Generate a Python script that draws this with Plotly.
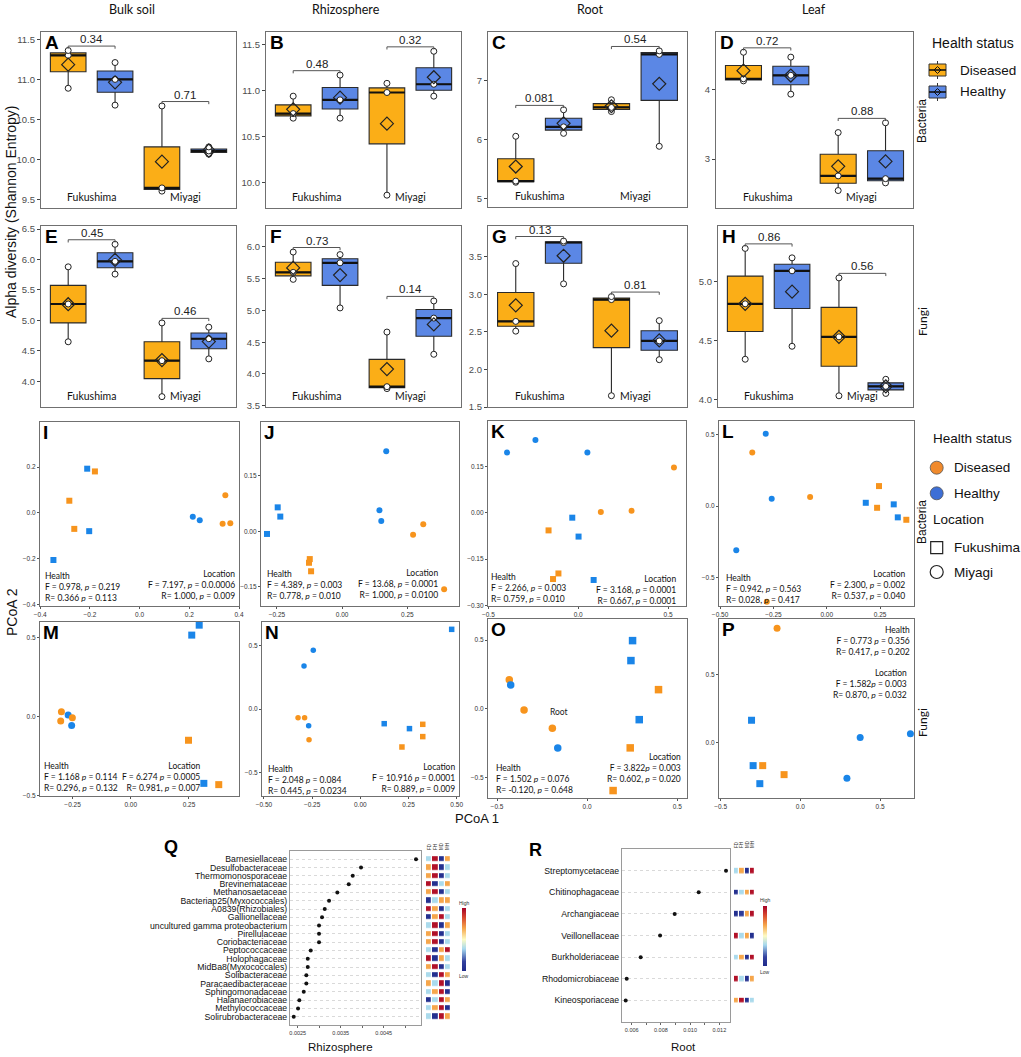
import numpy as np
import plotly.graph_objects as go

W, H = 1021, 1057

ORANGE_BOX = "#FBAE17"
BLUE_BOX = "#5B87E5"
ORANGE_PT = "#F7941D"
BLUE_PT = "#1A85E8"
FRAME = "#707070"
ARIAL = "Liberation Sans, Arial, sans-serif"
CALI = "Lato, Open Sans, sans-serif"

# ---------------- data: alpha diversity (3 samples per group) ----------------
# order of groups: Fukushima-Diseased, Fukushima-Healthy, Miyagi-Diseased, Miyagi-Healthy
sites = ["Fukushima", "Miyagi"]
health_status = ["Diseased", "Healthy"]
compartments = ["Bulk soil", "Rhizosphere", "Root", "Leaf"]

alpha_A = [[10.89, 11.30, 11.36], [10.68, 11.00, 11.21], [9.61, 9.65, 10.67], [10.07, 10.11, 10.16]]
alpha_B = [[10.70, 10.75, 10.94], [10.70, 10.90, 11.17], [9.86, 10.98, 11.08], [10.94, 11.07, 11.43]]
alpha_C = [[5.28, 5.30, 6.06], [6.11, 6.22, 6.51], [6.48, 6.55, 6.68], [5.89, 7.45, 7.51]]
alpha_D = [[4.12, 4.15, 4.53], [3.93, 4.20, 4.46], [2.55, 2.76, 3.38], [2.66, 2.72, 3.52]]
alpha_E = [[4.65, 5.27, 5.88], [5.76, 5.97, 6.25], [3.75, 4.34, 4.96], [4.37, 4.70, 4.89]]
alpha_F = [[5.49, 5.60, 5.92], [5.04, 5.75, 5.88], [3.77, 3.80, 4.66], [4.31, 4.88, 5.15]]
alpha_G = [[2.51, 2.64, 3.41], [3.14, 3.69, 3.71], [1.65, 2.93, 2.97], [2.13, 2.38, 2.65]]
alpha_H = [[4.34, 4.81, 5.28], [4.45, 5.09, 5.20], [4.03, 4.53, 5.03], [4.05, 4.11, 4.17]]

p_A = ["0.34", "0.71"]
p_B = ["0.48", "0.32"]
p_C = ["0.081", "0.54"]
p_D = ["0.72", "0.88"]
p_E = ["0.45", "0.46"]
p_F = ["0.73", "0.14"]
p_G = ["0.13", "0.81"]
p_H = ["0.86", "0.56"]

# ---------------- data: PCoA coordinates ----------------
# group codes: D/H = Diseased/Healthy, F/M = Fukushima/Miyagi
I_x = [-0.211, -0.180, -0.283, -0.263, -0.203, -0.347, 0.214, 0.242, 0.345, 0.334, 0.365]
I_y = [0.193, 0.181, 0.053, -0.070, -0.080, -0.206, -0.017, -0.032, 0.077, -0.048, -0.045]
I_g = ["HF", "DF", "DF", "DF", "HF", "HF", "HM", "HM", "DM", "DM", "DM"]

J_x = [0.169, -0.247, -0.237, -0.288, 0.143, 0.150, 0.272, 0.311, 0.391, -0.124, -0.127, -0.119]
J_y = [0.217, 0.065, 0.040, -0.007, 0.057, 0.028, -0.009, 0.019, -0.157, -0.075, -0.085, -0.108]
J_g = ["HM", "HF", "HF", "HF", "HM", "HM", "DM", "DM", "DM", "DF", "DF", "DF"]

K_x = [-0.396, -0.238, 0.051, 0.533, 0.126, 0.297, -0.033, 0.002, -0.165, -0.110, -0.140, 0.086]
K_y = [0.194, 0.235, 0.194, 0.146, 0.002, 0.006, -0.016, -0.077, -0.057, -0.196, -0.214, -0.217]
K_g = ["HM", "HM", "HM", "DM", "DM", "DM", "HF", "HF", "DF", "DF", "DF", "HF"]

L_x = [-0.286, -0.349, -0.258, -0.078, -0.424, 0.245, 0.183, 0.236, 0.314, 0.333, 0.373, -0.281]
L_y = [0.507, 0.376, 0.051, 0.063, -0.310, 0.140, 0.023, -0.012, 0.012, -0.079, -0.096, -0.670]
L_g = ["HM", "DM", "HM", "DM", "HM", "DF", "HF", "DF", "HF", "HF", "DF", "DM"]

M_x = [-0.298, -0.301, -0.269, -0.251, -0.254, 0.294, 0.262, 0.248, 0.314, 0.378]
M_y = [0.032, -0.027, 0.011, -0.006, -0.055, 0.580, 0.517, -0.149, -0.422, -0.430]
M_g = ["DM", "DM", "HM", "DM", "HM", "HF", "HF", "DF", "HF", "DF"]

N_x = [0.474, -0.244, -0.292, -0.323, -0.289, -0.268, -0.266, 0.124, 0.255, 0.324, 0.324, 0.216]
N_y = [0.629, 0.463, 0.339, -0.069, -0.069, -0.132, -0.242, -0.116, -0.155, -0.121, -0.218, -0.300]
N_g = ["HF", "HM", "HM", "DM", "DM", "HM", "DM", "HF", "HF", "DF", "DF", "DF"]

O_x = [-0.432, -0.424, -0.350, -0.193, -0.163, 0.252, 0.243, 0.396, 0.289, 0.239, 0.144]
O_y = [0.211, 0.174, -0.007, -0.141, -0.283, 0.496, 0.351, 0.140, -0.078, -0.283, -0.593]
O_g = ["DM", "HM", "DM", "DM", "HM", "HF", "HF", "DF", "HF", "DF", "DF"]

P_x = [-0.146, -0.306, 0.375, 0.690, -0.296, -0.236, -0.102, 0.292, -0.254]
P_y = [0.837, 0.164, 0.037, 0.066, -0.168, -0.168, -0.234, -0.261, -0.300]
P_g = ["DM", "HF", "HM", "HM", "HF", "DF", "DF", "HM", "HF"]

stats_I = ["Health<br>F = 0.978, <i>p</i> = 0.219<br>R= 0.366 <i>p</i> = 0.113",
           "Location<br>F = 7.197, <i>p</i> = 0.0.0006<br>R= 1.000, <i>p</i> = 0.009"]
stats_J = ["Health<br>F = 4.389, <i>p</i> = 0.003<br>R= 0.778, <i>p</i> = 0.010",
           "Location<br>F = 13.68, <i>p</i> = 0.0001<br>R= 1.000, <i>p</i> = 0.0100"]
stats_K = ["Health<br>F = 2.266, <i>p</i> = 0.003<br>R= 0.759, <i>p</i> = 0.010",
           "Location<br>F = 3.168, <i>p</i> = 0.0001<br>R= 0.667, <i>p</i> = 0.0001"]
stats_L = ["Health<br>F = 0.942, <i>p</i> = 0.563<br>R= 0.028, <i>p</i> = 0.417",
           "Location<br>F = 2.300, <i>p</i> = 0.002<br>R= 0.537, <i>p</i> = 0.040"]
stats_M = ["Health<br>F = 1.168 <i>p</i> = 0.114<br>R= 0.296, <i>p</i> = 0.132",
           "Location<br>F = 6.274 <i>p</i> = 0.0005<br>R= 0.981, <i>p</i> = 0.007"]
stats_N = ["Health<br>F = 2.048 <i>p</i> = 0.084<br>R= 0.445, <i>p</i> = 0.0234",
           "Location<br>F = 10.916 <i>p</i> = 0.0001<br>R= 0.889, <i>p</i> = 0.009"]
stats_O = ["Health<br>F = 1.502 <i>p</i> = 0.076<br>R= -0.120, <i>p</i> = 0.648",
           "Location<br>F = 3.822<i>p</i> = 0.003<br>R= 0.602, <i>p</i> = 0.020"]
stats_P = ["Health<br>F = 0.773 <i>p</i> = 0.356<br>R= 0.417, <i>p</i> = 0.202",
           "Location<br>F = 1.582<i>p</i> = 0.003<br>R= 0.870, <i>p</i> = 0.032"]

# ---------------- data: indicator families ----------------
Q_families = ["Barnesiellaceae", "Desulfobacteraceae", "Thermomonosporaceae", "Brevinemataceae",
              "Methanosaetaceae", "Bacteriap25(Myxococcales)", "A0839(Rhizobiales)", "Gallionellaceae",
              "uncultured gamma proteobacterium", "Pirellulaceae", "Coriobacteriaceae", "Peptococcaceae",
              "Holophagaceae", "MidBa8(Myxococcales)", "Solibacteraceae", "Paracaedibacteraceae",
              "Sphingomonadaceae", "Halanaerobiaceae", "Methylococcaceae", "Solirubrobacteraceae"]
Q_values = [0.005251, 0.003972, 0.003779, 0.003686, 0.003421, 0.003228, 0.003128, 0.003065,
            0.002995, 0.002995, 0.002995, 0.002802, 0.002733, 0.002733, 0.002700, 0.002700,
            0.002640, 0.002537, 0.002507, 0.002407]
heat_cols = ["FD", "FH", "MD", "MH"]
Q_heat = [[-0.4, 1.3, -1.3, 0.5], [0.5, 1.3, -1.3, -0.4], [0.5, 1.3, -1.3, -0.4], [1.3, -1.3, -0.4, 0.5],
          [0.5, 1.3, -1.3, -0.4], [-1.3, -0.4, 0.5, 0.5], [1.3, 0.5, -1.3, -0.4], [-1.3, 0.5, 1.3, -0.4],
          [-0.4, 1.3, -1.3, 0.5], [0.5, 1.3, -1.3, -0.4], [0.5, 1.3, -1.3, -0.4], [-0.4, -1.3, 0.5, 1.3],
          [1.3, -1.3, 0.5, -0.4], [0.5, 1.3, -1.3, -0.4], [-0.4, -1.3, 1.3, 0.5], [0.5, -0.4, 1.3, -1.3],
          [-0.4, 0.5, 1.3, -1.3], [-1.3, -0.4, 1.3, 0.5], [-0.4, 0.5, 1.3, -1.3], [-0.4, -1.3, 1.3, 0.5]]

R_families = ["Streptomycetaceae", "Chitinophagaceae", "Archangiaceae", "Veillonellaceae",
              "Burkholderiaceae", "Rhodomicrobiaceae", "Kineosporiaceae"]
R_values = [0.01246, 0.01059, 0.008945, 0.007945, 0.006616, 0.005658, 0.00559]
R_heat = [[-0.4, 0.5, -1.3, 1.3], [-1.3, -0.4, 0.5, 1.3], [-1.3, -1.1, 0.5, 1.3], [1.3, -0.4, 0.5, -1.3],
          [-0.4, 0.5, -1.3, 1.3], [1.3, -0.4, -1.3, 0.5], [0.5, 1.3, -1.3, -0.4]]

# ---------------- helpers ----------------
fig = go.Figure()
layout = {}
annotations = []
shapes = []
axis_counter = [0]


def new_axes(x0, x1, y0, y1, xcfg, ycfg):
    axis_counter[0] += 1
    n = axis_counter[0]
    sfx = "" if n == 1 else str(n)
    base = dict(showgrid=False, zeroline=False)
    layout["xaxis" + sfx] = {**base, "domain": [x0 / W, x1 / W], "anchor": "y" + sfx, **xcfg}
    layout["yaxis" + sfx] = {**base, "domain": [1 - y1 / H, 1 - y0 / H], "anchor": "x" + sfx, **ycfg}
    return "x" + sfx, "y" + sfx


def ann(text, xpx, ypx, size, family=ARIAL, xanchor="center", yanchor="middle", angle=0,
        color="#111", align="center"):
    annotations.append(dict(text=text, x=xpx / W, y=1 - ypx / H, xref="paper", yref="paper",
                            showarrow=False, xanchor=xanchor, yanchor=yanchor, textangle=angle,
                            align=align, font=dict(size=size, family=family, color=color)))


def pshape(kind, x0, y0, x1, y1, fill=None, color="#222", width=1):
    d = dict(type=kind, xref="paper", yref="paper", x0=x0 / W, x1=x1 / W, y0=1 - y1 / H, y1=1 - y0 / H,
             line=dict(color=color, width=width), layer="above")
    if fill:
        d["fillcolor"] = fill
    shapes.append(d)


frame = dict(showline=True, mirror=True, linecolor=FRAME, linewidth=1.2)

# ---------------- alpha diversity box plots ----------------
positions = [0.75, 1.25, 1.75, 2.25]
box_fill = [ORANGE_BOX, BLUE_BOX, ORANGE_BOX, BLUE_BOX]
box_panels = [
    ("A", alpha_A, p_A, (41, 236, 32, 208), [9.4, 11.59], 0.5, ".1f"),
    ("B", alpha_B, p_B, (266, 461, 32, 208), [9.72, 11.64], 0.5, ".1f"),
    ("C", alpha_C, p_C, (488, 687, 32, 207), [4.86, 7.83], 1, "d"),
    ("D", alpha_D, p_D, (716, 913, 32, 208), [2.30, 4.82], 1, "d"),
    ("E", alpha_E, p_E, (41, 236, 226, 407), [3.58, 6.55], 0.5, ".1f"),
    ("F", alpha_F, p_F, (266, 461, 226, 407), [3.48, 6.33], 0.5, ".1f"),
    ("G", alpha_G, p_G, (488, 687, 226, 407), [1.5, 3.91], 0.5, ".1f"),
    ("H", alpha_H, p_H, (718, 913, 226, 407), [3.935, 5.47], 0.5, ".1f"),
]

for k, (letter, pts, pv, (x0, x1, y0, y1), yr, dt, fmt) in enumerate(box_panels):
    xr, yref = new_axes(
        x0, x1, y0, y1,
        dict(range=[0.46, 2.54], showticklabels=False, ticks="", **frame),
        dict(range=yr, dtick=dt, tickformat=fmt, ticks="outside", ticklen=3, tickcolor="#444",
             tickfont=dict(size=9.5, color="#4d4d4d", family=ARIAL), **frame))
    span = yr[1] - yr[0]
    for g in range(4):
        v = np.sort(np.array(pts[g], dtype=float))
        q1, med, q3 = np.percentile(v, 25), np.median(v), np.percentile(v, 75)
        fig.add_trace(go.Box(
            x=[positions[g]], q1=[q1], median=[med], q3=[q3], lowerfence=[v.min()], upperfence=[v.max()],
            width=0.38, fillcolor=box_fill[g], line=dict(color="#2a2a2a", width=1.1), whiskerwidth=0,
            boxpoints=False, name=health_status[g % 2], showlegend=False,
            xaxis=xr, yaxis=yref, hoverinfo="skip"))
        fig.add_trace(go.Scatter(
            x=[positions[g] - 0.19, positions[g] + 0.19], y=[med, med], mode="lines",
            line=dict(color="#111", width=2.2), showlegend=False, xaxis=xr, yaxis=yref, hoverinfo="skip"))
        fig.add_trace(go.Scatter(
            x=[positions[g]] * len(v), y=v, mode="markers",
            marker=dict(symbol="circle", size=6, color="white", line=dict(color="#222", width=1)),
            showlegend=False, xaxis=xr, yaxis=yref, hoverinfo="skip"))
        fig.add_trace(go.Scatter(
            x=[positions[g]], y=[v.mean()], mode="markers",
            marker=dict(symbol="diamond-open", size=10, color="#222", line=dict(width=1.2)),
            showlegend=False, xaxis=xr, yaxis=yref, hoverinfo="skip"))
    for s in range(2):
        a, b = 2 * s, 2 * s + 1
        top = max(max(pts[a]), max(pts[b]))
        yb = top + 0.025 * span
        tick = 0.015 * span
        fig.add_trace(go.Scatter(
            x=[positions[a], positions[a], positions[b], positions[b]],
            y=[yb - tick, yb, yb, yb - tick], mode="lines", line=dict(color="#555", width=1),
            showlegend=False, xaxis=xr, yaxis=yref, hoverinfo="skip"))
        annotations.append(dict(text=pv[s], x=(positions[a] + positions[b]) / 2, y=yb, xref=xr, yref=yref,
                                showarrow=False, yanchor="bottom", yshift=-1,
                                font=dict(size=11.5, family=ARIAL, color="#222")))
    for s, name in enumerate(sites):
        annotations.append(dict(text=name, x=s + 1, y=0, xref=xr, yref=yref + " domain", showarrow=False,
                                yanchor="bottom", yshift=3, font=dict(size=10.5, family=CALI, color="#111")))
    annotations.append(dict(text="<b>" + letter + "</b>", x=0, y=1, xref=xr + " domain", yref=yref + " domain",
                            showarrow=False, xanchor="left", yanchor="top", xshift=2, yshift=2,
                            font=dict(size=19, family=ARIAL, color="#000")))

# ---------------- PCoA panels ----------------
pcoa_panels = [
    ("I", I_x, I_y, I_g, stats_I, (40, 239, 422, 606), [-0.401, 0.40], [-0.407, 0.397], 0.2, ".1f", 0.2, ".1f", 6,
     (43, 586.7, "left"), (237, 585, "right")),
    ("J", J_x, J_y, J_g, stats_J, (261, 459, 422, 606), [-0.311, 0.448], [-0.202, 0.296], 0.25, ".2f", 0.15, ".2f", 6,
     (265, 585, "left"), (440, 584.3, "right")),
    ("K", K_x, K_y, K_g, stats_K, (488, 686, 421, 606), [-0.502, 0.60], [-0.301, 0.296], 0.5, ".1f", 0.15, ".2f", 6,
     (489, 588, "left"), (678, 590, "right")),
    ("L", L_x, L_y, L_g, stats_L, (719, 914, 421, 606), [-0.505, 0.409], [-0.70, 0.596], 0.25, ".2f", 0.5, ".1f", 6,
     (724, 589, "left"), (908, 585, "right")),
    ("M", M_x, M_y, M_g, stats_M, (40, 239, 622, 796), [-0.39, 0.465], [-0.502, 0.60], 0.25, ".2f", 0.5, ".1f", 7,
     (42, 777.3, "left"), (203, 777.3, "right")),
    ("N", N_x, N_y, N_g, stats_N, (262, 459, 622, 796), [-0.51, 0.512], [-0.687, 0.687], 0.25, ".2f", 0.5, ".1f", 5.5,
     (265.7, 780, "left"), (457, 778.3, "right")),
    ("O", O_x, O_y, O_g, stats_O, (488, 687, 619, 798), [-0.55, 0.554], [-0.647, 0.653], 0.5, ".1f", 0.5, ".1f", 7.5,
     (494, 779, "left"), (683, 768.3, "right")),
    ("P", P_x, P_y, P_g, stats_P, (719, 914, 619, 798), [-0.51, 0.7125], [-0.405, 0.905], 0.5, ".1f", 0.5, ".1f", 7,
     (912, 641, "right"), (909, 684.3, "right")),
]

pcoa_axes = {}
for letter, xs, ys, gs, st, (x0, x1, y0, y1), xrg, yrg, xdt, xf, ydt, yf, ms, hpos, lpos in pcoa_panels:
    tickstyle = dict(ticks="outside", ticklen=2, tickcolor="#555",
                     tickfont=dict(size=6.5, color="#333", family=ARIAL))
    xr, yref = new_axes(x0, x1, y0, y1,
                        dict(range=xrg, dtick=xdt, tickformat=xf, **tickstyle, **frame),
                        dict(range=yrg, dtick=ydt, tickformat=yf, **tickstyle, **frame))
    pcoa_axes[letter] = (xr, yref)
    colors = [ORANGE_PT if g[0] == "D" else BLUE_PT for g in gs]
    symbols = ["square" if g[1] == "F" else "circle" for g in gs]
    fig.add_trace(go.Scatter(x=xs, y=ys, mode="markers",
                             marker=dict(color=colors, symbol=symbols, size=ms, line=dict(width=0)),
                             showlegend=False, xaxis=xr, yaxis=yref, hoverinfo="skip"))
    annotations.append(dict(text="<b>" + letter + "</b>", x=0, y=1, xref=xr + " domain", yref=yref + " domain",
                            showarrow=False, xanchor="left", yanchor="top", xshift=1, yshift=2,
                            font=dict(size=19, family=ARIAL, color="#000")))
    for txt, (px_, py_, anc) in zip(st, [hpos, lpos]):
        ann(txt, px_, py_, 8.5, family=CALI, xanchor=anc, yanchor="middle", align=anc, color="#111")

xr_o, yr_o = pcoa_axes["O"]
annotations.append(dict(text="Root", x=-0.154, y=-0.02, xref=xr_o, yref=yr_o, showarrow=False,
                        font=dict(size=8.5, family=CALI, color="#222")))

# ---------------- indicator family dot plots + heat strips ----------------
HEAT_SCALE = [[0.0, "#1f2a8a"], [0.15, "#34429f"], [0.35, "#a6d8ee"], [0.5, "#fdfbc4"],
              [0.68, "#f6a54a"], [0.85, "#d7472f"], [1.0, "#a50026"]]


def dot_panel(fams, vals, heat, box, heatbox, xrange, tickvals, ticktext, cbar_y, cbar_len, cbar_x,
              high_y, low_y, letter, letter_pos, title, title_pos, ygap):
    n = len(fams)
    idx = list(range(n))
    x0, x1, y0, y1 = box
    xr, yref = new_axes(x0, x1, y0, y1,
                        dict(range=xrange, tickvals=tickvals, ticktext=ticktext, ticks="outside", ticklen=2,
                             tickcolor="#666", tickfont=dict(size=5.5, color="#333", family=ARIAL),
                             showline=True, mirror=True, linecolor="#9a9a9a", linewidth=1.2),
                        dict(range=[n, -1], tickvals=idx, ticktext=fams, ticks="", showgrid=True,
                             gridcolor="#d9d9d9", griddash="dot", gridwidth=1,
                             tickfont=dict(size=8.7, color="#111", family=ARIAL),
                             showline=True, mirror=True, linecolor="#9a9a9a", linewidth=1.2))
    fig.add_trace(go.Scatter(x=vals, y=idx, mode="markers", marker=dict(color="#111", size=4),
                             showlegend=False, xaxis=xr, yaxis=yref, hoverinfo="skip"))
    hx0, hx1 = heatbox
    hxr, hyr = new_axes(hx0, hx1, y0, y1,
                        dict(range=[-0.5, 3.5], side="top", tickvals=[0, 1, 2, 3], ticktext=heat_cols,
                             tickangle=-90, ticks="", tickfont=dict(size=4.5, color="#333", family=ARIAL)),
                        dict(range=[n, -1], showticklabels=False, ticks=""))
    fig.add_trace(go.Heatmap(z=heat, x=[0, 1, 2, 3], y=idx, colorscale=HEAT_SCALE, zmin=-1.4, zmax=1.4,
                             xgap=1.2, ygap=ygap, xaxis=hxr, yaxis=hyr, hoverinfo="skip",
                             colorbar=dict(x=cbar_x / W, xanchor="left", y=1 - cbar_y / H, yanchor="middle",
                                           len=cbar_len, lenmode="pixels", thickness=4, showticklabels=False,
                                           ticks="", outlinewidth=0, xpad=0, ypad=0)))
    ann("High", cbar_x + 2, high_y, 5, color="#333")
    ann("Low", cbar_x + 2, low_y, 5, color="#333")
    ann("<b>" + letter + "</b>", letter_pos[0], letter_pos[1], 18, xanchor="left", yanchor="top", color="#000")
    ann(title, title_pos[0], title_pos[1], 11.5, color="#111")


dot_panel(Q_families, Q_values, Q_heat, (290, 421, 851, 1025), (426, 451), [0.00232, 0.005367],
          [0.0025, 0.003, 0.0035, 0.004, 0.0045, 0.005], ["0.0025", "", "0.0035", "", "0.0045", ""],
          939.5, 63, 462, 903, 976, "Q", (162, 835), "Rhizosphere", (340, 1047), 3.2)
dot_panel(R_families, R_values, R_heat, (622, 730, 849, 1022), (734, 755), [0.005336, 0.012733],
          [0.005, 0.006, 0.007, 0.008, 0.009, 0.010, 0.011, 0.012],
          ["", "0.006", "", "0.008", "", "0.010", "", "0.012"],
          936, 60, 763, 900, 972, "R", (527, 838), "Root", (683, 1047), 16.5)

# ---------------- global labels ----------------
for name, xc in zip(compartments, [132, 346, 590, 814]):
    ann(name, xc, 10, 12.5, family=CALI)
ann("Alpha diversity (Shannon Entropy)", 11, 212, 14, angle=-90)
ann("PCoA 2", 12, 612, 14, angle=-90)
ann("PCoA 1", 477, 818, 13)
for txt, ypx in [("Bacteria", 121), ("Fungi", 322), ("Bacteria", 522), ("Fungi", 723)]:
    ann(txt, 922, ypx, 12, angle=-90, family=CALI if txt == "Fungi" else ARIAL)

# ---------------- legends (drawn as keys + labels) ----------------
LEG = 13.5
ann("Health status", 930, 43, LEG + 0.5, xanchor="left")
for nm, col, yc in [(health_status[0], ORANGE_BOX, 70), (health_status[1], BLUE_BOX, 92)]:
    pshape("line", 937.5, yc - 9, 937.5, yc + 9, color="#333", width=1)
    pshape("rect", 929, yc - 6, 946, yc + 6, fill=col, color="#333", width=1)
    pshape("line", 929, yc, 946, yc, color="#111", width=1.6)
    shapes.append(dict(type="path", xref="paper", yref="paper", layer="above",
                       path="M {a},{b} L {c},{d} L {a},{e} L {f},{d} Z".format(
                           a=937.5 / W, b=1 - (yc - 3.5) / H, c=941 / W, d=1 - yc / H,
                           e=1 - (yc + 3.5) / H, f=934 / W),
                       line=dict(color="#111", width=1)))
    ann(nm, 958, yc, LEG, xanchor="left")

ann("Health status", 931, 439, LEG, xanchor="left")
for nm, col, yc in [(health_status[0], "#F08A2C", 467.7), (health_status[1], "#3D6FD6", 493.3)]:
    pshape("circle", 930.2, yc - 6.5, 943.2, yc + 6.5, fill=col, color="#555", width=0.8)
    ann(nm, 951.7, yc, LEG, xanchor="left")
ann("Location", 931, 519, LEG, xanchor="left")
pshape("rect", 930.7, 541.7, 942.7, 553.7, color="#222", width=1.2)
ann(sites[0], 951.7, 547.7, LEG, xanchor="left")
pshape("circle", 930.2, 565.5, 943.2, 578.5, color="#222", width=1.2)
ann(sites[1], 951.7, 572, LEG, xanchor="left")

layout.update(dict(
    width=W, height=H, margin=dict(l=0, r=0, t=0, b=0, autoexpand=False),
    paper_bgcolor="white", plot_bgcolor="white",
    annotations=annotations, shapes=shapes, showlegend=False,
))
fig.update_layout(layout)
fig.write_html("out.html", config={"displayModeBar": False},
               post_script="document.body.style.margin='0';document.body.style.padding='0';")
